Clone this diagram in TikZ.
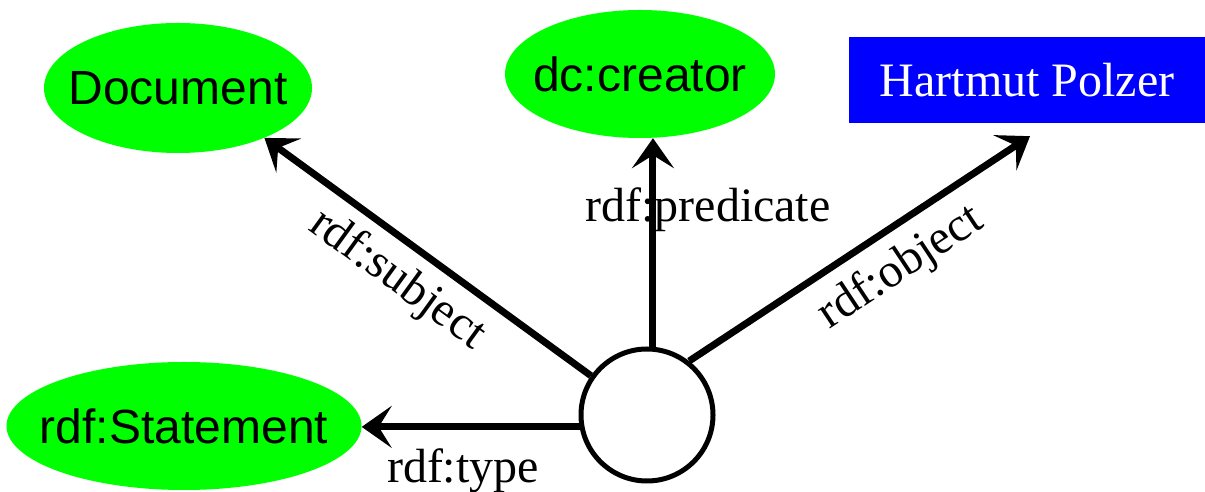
\documentclass[tikz,border=0pt]{standalone}
\usepackage{fontspec}
\setmainfont{Liberation Serif}
\setsansfont{Liberation Sans}
\usetikzlibrary{shapes.geometric,arrows.meta}
\definecolor{rdfgreen}{RGB}{0,255,0}
\definecolor{rdfblue}{RGB}{0,0,255}

\begin{document}
\begin{tikzpicture}[
          x=1pt, y=1pt,
          resource/.style={ellipse, fill=rdfgreen, inner sep=0pt, minimum width=270pt, minimum height=128pt, font=\sffamily\fontsize{48}{56}\selectfont},
          literal/.style={rectangle, fill=rdfblue, text=white, inner sep=0pt, minimum width=356pt, minimum height=86pt, font=\fontsize{48}{56}\selectfont},
          blank/.style={circle, draw, fill=white, line width=5pt, minimum size=132pt, inner sep=0pt},
          prop/.style={inner sep=0pt, font=\fontsize{48}{56}\selectfont},
          arrow/.style={-{Stealth[length=30pt, width=42pt, inset=13pt]}, line width=7pt}
        ]
          \useasboundingbox (0,0) rectangle (1205,492);

          % Resources and literal
          \node[resource, minimum width=268pt, minimum height=130pt] (doc) at (178,404) {\makebox[0pt]{Document}};
          \node[resource] (creator) at (640,418) {\makebox[0pt]{dc:creator}};
          \node[literal] (polzer) at (1027,412) {Hartmut Polzer};
          \node[resource, minimum width=355pt] (stmt) at (184,66) {\makebox[0pt]{rdf:Statement}};

          % Reified statement
          \node[blank] (reif) at (647,77) {};

          % Property arrows
          \draw[arrow] (reif.190) -- (reif.190 -| stmt.east);
          \draw[arrow] (reif.145) -- (doc.330);
          \draw[arrow] (reif.85) -- (reif.85 |- creator.south);
          \draw[arrow] (reif.52) -- ([shift={(3pt,-13pt)}]polzer.south);

          % Property labels
          \node[prop, rotate=-36] (subjlabel) at (397,212) {rdf:subject};
          \node[prop] (predlabel) at (708,282) {rdf:predicate};
          \node[prop, rotate=33.6] (objlabel) at (901,224) {rdf:object};
          \node[prop] (typelabel) at (463,21) {rdf:type};

        \end{tikzpicture}
\end{document}
